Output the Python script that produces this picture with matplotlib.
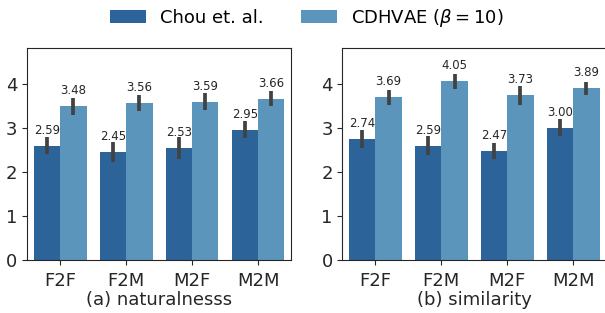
import matplotlib
matplotlib.use("Agg")
import matplotlib.pyplot as plt
import numpy as np

conversions = ["F2F", "F2M", "M2F", "M2M"]
methods = ["Chou et. al.", "CDHVAE ($\\beta=10$)"]

# naturalness
nat_chou = [2.59, 2.45, 2.53, 2.95]
nat_cdh = [3.48, 3.56, 3.59, 3.66]
nat_chou_err = [0.19, 0.22, 0.25, 0.19]
nat_cdh_err = [0.19, 0.18, 0.20, 0.17]

# similarity
sim_chou = [2.74, 2.59, 2.47, 3.00]
sim_cdh = [3.69, 4.05, 3.73, 3.89]
sim_chou_err = [0.20, 0.22, 0.19, 0.19]
sim_cdh_err = [0.17, 0.17, 0.21, 0.15]

colors = ["#2c6399", "#5b95bc"]

fig = plt.figure(figsize=(6.05, 3.13), dpi=100)
ax1 = fig.add_axes([0.045, 0.169, 0.436, 0.677])
ax2 = fig.add_axes([0.566, 0.169, 0.436, 0.677])

def panel(ax, a, b, ea, eb, title):
    x = np.arange(len(conversions))
    w = 0.4
    bars_a = ax.bar(x - w / 2, a, w, color=colors[0], label=methods[0])
    bars_b = ax.bar(x + w / 2, b, w, color=colors[1], label=methods[1])
    ax.bar_label(bars_a, fmt="%.2f", padding=6.5, fontsize=8.5, color="#262626")
    ax.bar_label(bars_b, fmt="%.2f", padding=6.5, fontsize=8.5, color="#262626")
    ax.errorbar(x - w / 2, a, yerr=ea, fmt="none", ecolor="#424242", elinewidth=2.7, capsize=0)
    ax.errorbar(x + w / 2, b, yerr=eb, fmt="none", ecolor="#424242", elinewidth=2.7, capsize=0)
    ax.set_xlim(-0.5, 3.5)
    ax.set_ylim(0, 4.8)
    ax.set_yticks([0, 1, 2, 3, 4])
    ax.set_xticks(x)
    ax.set_xticklabels(conversions)
    ax.tick_params(labelsize=13, colors="#262626")
    ax.tick_params(axis="x", pad=5)
    ax.set_xlabel(title, fontsize=13, color="#262626", labelpad=1)
    for s in ax.spines.values():
        s.set_color("#262626")

panel(ax1, nat_chou, nat_cdh, nat_chou_err, nat_cdh_err, "(a) naturalnesss")
panel(ax2, sim_chou, sim_cdh, sim_chou_err, sim_cdh_err, "(b) similarity")

h, l = ax1.get_legend_handles_labels()
fig.legend(h, l, loc="upper center", ncol=2, frameon=False, fontsize=13,
           bbox_to_anchor=(0.507, 1.03), handlelength=2.0, columnspacing=2.05)

fig.savefig("out.png", dpi=100)
